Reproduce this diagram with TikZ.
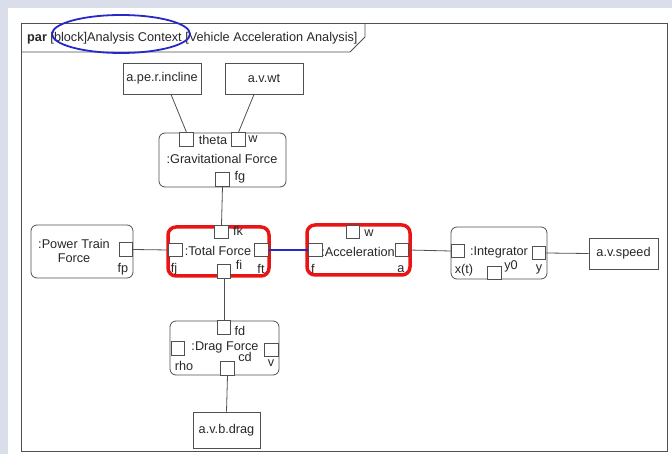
\documentclass[tikz,border=0pt]{standalone}
\usepackage{fontspec}
\setmainfont{Liberation Sans}
\usepackage{tikz}

\definecolor{pagebg}{RGB}{218,222,234}
\definecolor{inkgray}{RGB}{80,80,80}
\definecolor{txtgray}{RGB}{40,40,40}
\definecolor{markred}{RGB}{235,20,20}
\definecolor{markblue}{RGB}{40,40,200}

\tikzset{
  every node/.style={font=\fontsize{12.7pt}{14.5pt}\selectfont, text=txtgray, inner sep=1pt},
  part/.style={draw=inkgray, line width=0.8pt, rounded corners=6pt, inner sep=0pt},
  refbox/.style={draw=inkgray, line width=0.8pt, inner sep=0pt},
  port/.style={draw=inkgray, line width=0.8pt, fill=white, inner sep=0pt, minimum size=13.5pt},
  hilite/.style={draw=markred, line width=3.5pt, rounded corners=8pt, inner sep=0pt},
  conn/.style={draw=inkgray, line width=0.8pt},
  tag/.style={inner sep=0pt},
}

\begin{document}
\begin{tikzpicture}[x=1pt, y=-1pt]
  % --- page and frame ---
  \fill[pagebg] (0,0) rectangle (672,454);
  \fill[white] (8,8) rectangle (672,454);
  \useasboundingbox (0,0) rectangle (672,454);
  \draw[inkgray, line width=0.9pt] (21,23) rectangle (667,451);
  \draw[inkgray, line width=0.8pt] (21,52) -- (350,52) -- (365,37) -- (365,23);
  \node[anchor=west, inner sep=0pt] (hdr) at (27,38)
    {\textbf{par} [block]Analysis Context [Vehicle Acceleration Analysis]};
  \draw[markblue, line width=1.8pt] (121,34) ellipse[x radius=69, y radius=19];

  % --- value properties ---
  \node[refbox, minimum width=78, minimum height=31] (incline) at (162,78.5) {a.pe.r.incline};
  \node[refbox, minimum width=78, minimum height=31] (wt) at (264,78.5) {a.v.wt};
  \node[refbox, minimum width=69, minimum height=31] (speed) at (623.5,253.5) {a.v.speed};
  \node[refbox, minimum width=67, minimum height=36] (drag) at (226.5,430) {a.v.b.drag};

  % --- :Gravitational Force ---
  \node[part, minimum width=127, minimum height=54] (grav) at (222.5,160) {};
  \node[tag] (gravname) at (222,159) {:Gravitational Force};
  \node[port] (theta) at (186.5,139.5) {};
  \node[port] (gw) at (238.5,139.5) {};
  \node[port] (fg) at (222.5,179.5) {};
  \node[tag] (thetalbl) at (213,140) {theta};
  \node[tag] (gwlbl) at (253,139) {w};
  \node[tag] (fglbl) at (240,177) {fg};

  % --- :Power Train Force ---
  \node[part, minimum width=102, minimum height=53] (ptf) at (82,251.5) {};
  \node[align=center] (ptfname) at (74,251) {:Power Train\\Force};
  \node[port] (fp) at (126,249.5) {};
  \node[tag] (fplbl) at (123,269) {fp};

  % --- :Total Force ---
  \node[hilite, minimum width=101, minimum height=49] (total) at (218.5,251.5) {};
  \node[tag] (totalname) at (218,251) {:Total Force};
  \node[port] (fj) at (175.5,250) {};
  \node[port] (fk) at (221.5,232) {};
  \node[port] (ft) at (261.5,250) {};
  \node[port] (fi) at (224,271.5) {};
  \node[tag] (fjlbl) at (174,269) {fj};
  \node[tag] (fklbl) at (238,231) {fk};
  \node[tag] (ftlbl) at (261,269) {ft};
  \node[tag] (filbl) at (239,265) {fi};

  % --- :Acceleration ---
  \node[hilite, minimum width=103, minimum height=50] (accel) at (358.5,250) {};
  \node[tag] (accelname) at (358,252) {:Acceleration};
  \node[port] (af) at (315.5,250) {};
  \node[port] (aw) at (353,232) {};
  \node[port] (aa) at (402,250) {};
  \node[tag] (aflbl) at (313,269) {f};
  \node[tag] (awlbl) at (369,233) {w};
  \node[tag] (aalbl) at (401,269) {a};

  % --- :Integrator ---
  \node[part, minimum width=96, minimum height=52] (integ) at (499,253) {};
  \node[tag] (integname) at (499,252) {:Integrator};
  \node[port] (xt) at (458,251) {};
  \node[port] (y0) at (494.5,273) {};
  \node[port] (yy) at (539,253) {};
  \node[tag] (xtlbl) at (464,270) {x(t)};
  \node[tag] (y0lbl) at (511,266) {y0};
  \node[tag] (yylbl) at (539,269) {y};

  % --- :Drag Force ---
  \node[part, minimum width=109, minimum height=54] (dragf) at (224.5,348) {};
  \node[tag] (dragname) at (225,347) {:Drag Force};
  \node[port] (fd) at (224,327.5) {};
  \node[port] (rho) at (178,348.5) {};
  \node[port] (dv) at (271.5,350) {};
  \node[port] (cd) at (227.5,368.5) {};
  \node[tag] (fdlbl) at (240,331) {fd};
  \node[tag] (rholbl) at (184,366) {rho};
  \node[tag] (dvlbl) at (271,363) {v};
  \node[tag] (cdlbl) at (245,357) {cd};

  % --- binding connectors ---
  \draw[conn] ([xshift=9pt]incline.south) -- (theta.north);
  \draw[conn] ([xshift=-10pt]wt.south) -- (gw.north);
  \draw[conn] (fg.south) -- (fk.north);
  \draw[conn] (fp.east) -- (fj.west);
  \draw[markblue, line width=2.8pt] (ft.east) -- (af.west);
  \draw[conn] (aa.east) -- (xt.west);
  \draw[conn] (yy.east) -- (speed.west);
  \draw[conn] (fi.south) -- (fd.north);
  \draw[conn] (cd.south) -- (drag.north);
\end{tikzpicture}
\end{document}
